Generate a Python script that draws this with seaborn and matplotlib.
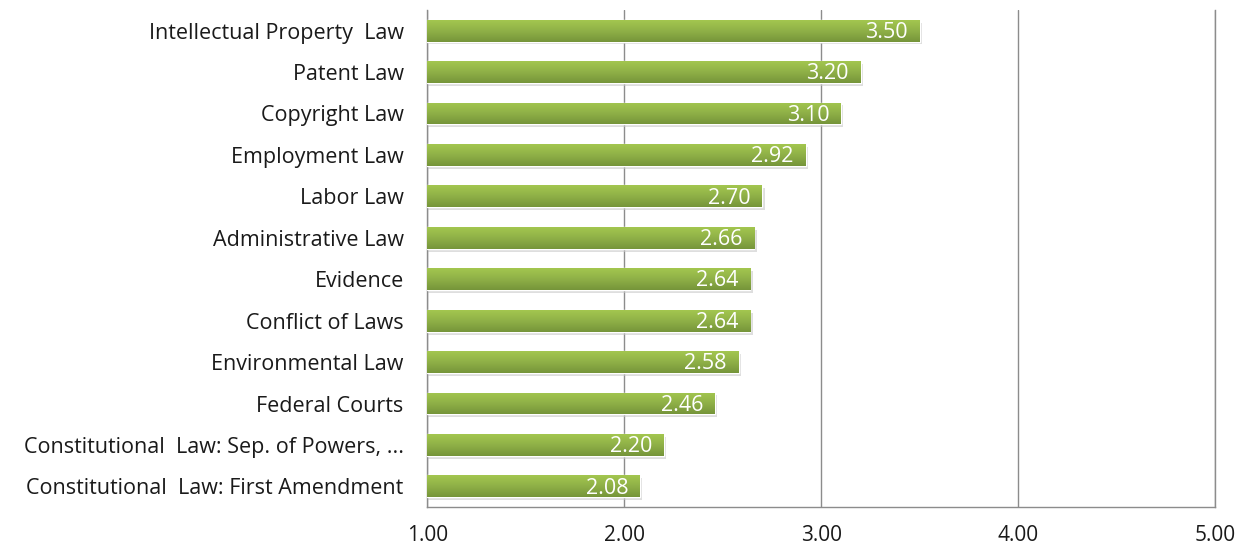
import numpy as np
import pandas as pd
import matplotlib
matplotlib.use("Agg")
import matplotlib.pyplot as plt
from matplotlib.colors import LinearSegmentedColormap
import seaborn as sns

# ── Data ──────────────────────────────────────────────────────────────────────
courses = [
    "Intellectual Property  Law",
    "Patent Law",
    "Copyright Law",
    "Employment Law",
    "Labor Law",
    "Administrative Law",
    "Evidence",
    "Conflict of Laws",
    "Environmental Law",
    "Federal Courts",
    "Constitutional  Law: Sep. of Powers, ...",
    "Constitutional  Law: First Amendment",
]
scores = [3.50, 3.20, 3.10, 2.92, 2.70, 2.66, 2.64, 2.64, 2.58, 2.46, 2.20, 2.08]
x_ticks = [1.00, 2.00, 3.00, 4.00, 5.00]
x_min, x_max = 1.0, 5.0

df = pd.DataFrame({"course": courses, "score": scores})

sns.set_theme(style="white")
plt.rcParams["font.family"] = ["Open Sans", "DejaVu Sans"]

fig = plt.figure(figsize=(12.53, 5.5), dpi=100)
ax = fig.add_axes([0.341, 0.078, 0.629, 0.904])

sns.barplot(data=df, y="course", x="score", color="#9bbb59",
            width=0.53, saturation=1, ax=ax, zorder=3)

# bars start at the axis minimum, with a vertical gradient (light top)
grad = LinearSegmentedColormap.from_list("g", ["#a3c64f", "#8fb047", "#76953a"])
for bar in list(ax.patches):
    right = bar.get_x() + bar.get_width()
    bar.set_x(x_min)
    bar.set_width(right - x_min)
    x0, y0 = bar.get_x(), bar.get_y()
    w, h = bar.get_width(), bar.get_height()
    img = ax.imshow(np.linspace(0, 1, 50).reshape(-1, 1), cmap=grad,
                    origin="upper", aspect="auto",
                    extent=[x0, x0 + w, y0 + h, y0], zorder=4)
    img.set_clip_path(bar)
    # soft shadow
    ax.add_patch(plt.Rectangle((x0, y0 + 0.07), w + 0.012, h,
                               color="#c8c8c8", alpha=0.6, zorder=2, lw=0))

for i, val in enumerate(scores):
    ax.text(val - 0.06, i + 0.04, f"{val:.2f}", ha="right", va="center",
            color="white", fontsize=15.5, zorder=6)

ax.set_xlim(x_min, x_max)
ax.set_ylim(len(courses) - 0.5, -0.5)
ax.set_xticks(x_ticks)
ax.set_xticklabels([f"{t:.2f}" for t in x_ticks])
ax.xaxis.grid(True, color="#8c8c8c", linewidth=1.0, zorder=0)
ax.set_axisbelow(True)
ax.set_xlabel("")
ax.set_ylabel("")
ax.tick_params(axis="x", labelsize=15, pad=13, colors="#1a1a1a", length=0)
ax.tick_params(axis="y", labelsize=15.5, pad=17, colors="#1a1a1a", length=0)
ax.spines["top"].set_visible(False)
for s in ["left", "bottom", "right"]:
    ax.spines[s].set_color("#8c8c8c")
    ax.spines[s].set_linewidth(1.0)

plt.savefig("out.png", dpi=100, facecolor="white")
